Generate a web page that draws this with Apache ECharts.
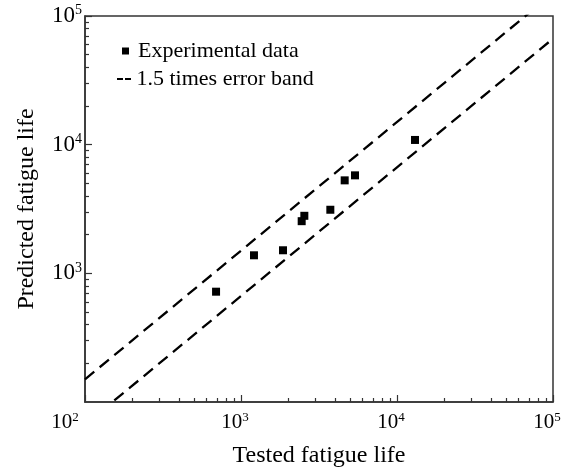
<!DOCTYPE html>
<html><head><meta charset="utf-8">
<script src="https://cdn.jsdelivr.net/npm/echarts@6/dist/echarts.min.js"></script>
<style>html,body{margin:0;padding:0;background:#fff}#c{width:567px;height:468px}</style>
</head><body><div id="c"></div>
<script>
// ---- data ----
const testedLife    = [692, 1211, 1859, 2449, 2547, 3738, 4620, 5379, 13040];
const predictedLife = [720, 1381, 1511, 2543, 2800, 3120, 5280, 5775, 10880];
const bandFactor = 1.5;
const decadeExponents = [2, 3, 4, 5];
const minorMultipliers = [2, 3, 4, 5, 6, 7, 8, 9];
const xTitle = 'Tested fatigue life';
const yTitle = 'Predicted fatigue life';
const legendNames = ['Experimental data', '1.5 times error band'];

// ---- build ----
const FONT = '"Liberation Serif", "Times New Roman", Times, serif';
const lg = Math.log10;
const minE = decadeExponents[0], maxE = decadeExponents[decadeExponents.length - 1];
const minorVals = [];
decadeExponents.slice(0, -1).forEach(e => minorMultipliers.forEach(m => minorVals.push(lg(m * Math.pow(10, e)))));
const scatterData = testedLife.map((t, i) => [lg(t), lg(predictedLife[i])]);
const lo = Math.pow(10, minE), hi = Math.pow(10, maxE);
const upperBand = [[lg(lo), lg(lo * bandFactor)], [lg(hi), lg(hi * bandFactor)]];
const lowerBand = [[lg(lo), lg(lo / bandFactor)], [lg(hi), lg(hi / bandFactor)]];

const AX = '#333';
function richFor(size, supSize) {
  return {
    b: { fontSize: size, fontFamily: FONT, color: '#000', lineHeight: size + 4 },
    s: { fontSize: supSize, fontFamily: FONT, color: '#000', verticalAlign: 'top', lineHeight: supSize, padding: [1, 0, 0, 0] },
    p: { fontSize: size, fontFamily: FONT, width: 28 }
  };
}
const gridOpt = { left: 85, right: 14, top: 16, bottom: 66, show: true, borderColor: AX, borderWidth: 1.5,
  containLabel: false, outerBoundsMode: 'none' };

const chart = echarts.init(document.getElementById('c'), null, { renderer: 'canvas' });
chart.setOption({
  animation: false,
  backgroundColor: '#fff',
  grid: gridOpt,
  xAxis: [{
    type: 'value', min: minE, max: maxE, interval: 1, position: 'bottom',
    name: xTitle, nameLocation: 'middle', nameGap: 42,
    nameTextStyle: { fontSize: 24, fontFamily: FONT, color: '#000' },
    axisLine: { show: true, lineStyle: { color: AX, width: 1.5 } },
    axisTick: { show: true, inside: true, length: 7, lineStyle: { color: AX, width: 1.2 } },
    splitLine: { show: false },
    axisLabel: {
      margin: 8, showMinLabel: true, showMaxLabel: true, padding: [0, 12, 0, 0],
      fontSize: 21, fontFamily: FONT, color: '#000',
      formatter: v => (Math.round(v) === minE ? '{b|10}{s|' + Math.round(v) + '}{p| }' : '{b|10}{s|' + Math.round(v) + '}'),
      rich: richFor(21, 13)
    }
  }, {
    type: 'value', min: minE, max: maxE, position: 'bottom', gridIndex: 0,
    axisLine: { show: false }, axisLabel: { show: false }, splitLine: { show: false },
    axisTick: { show: true, inside: true, length: 4, customValues: minorVals, lineStyle: { color: AX, width: 1.2 } }
  }],
  yAxis: [{
    type: 'value', min: minE, max: maxE, interval: 1, position: 'left',
    name: yTitle, nameLocation: 'middle', nameGap: 46, nameRotate: 90,
    nameTextStyle: { fontSize: 24, fontFamily: FONT, color: '#000' },
    axisLine: { show: true, lineStyle: { color: AX, width: 1.5 } },
    axisTick: { show: true, inside: true, length: 7, lineStyle: { color: AX, width: 1.2 } },
    splitLine: { show: false },
    axisLabel: {
      margin: 3, showMinLabel: false, showMaxLabel: true,
      fontSize: 23, fontFamily: FONT, color: '#000',
      formatter: v => '{b|10}{s|' + Math.round(v) + '}',
      rich: richFor(23, 14)
    }
  }, {
    type: 'value', min: minE, max: maxE, position: 'left', gridIndex: 0,
    axisLine: { show: false }, axisLabel: { show: false }, splitLine: { show: false },
    axisTick: { show: true, inside: true, length: 4, customValues: minorVals, lineStyle: { color: AX, width: 1.2 } }
  }],
  legend: [{
    data: [{ name: legendNames[0], icon: 'rect', itemStyle: { color: '#000', opacity: 1 } }],
    left: 122, top: 40, padding: 0, orient: 'vertical', itemWidth: 7, itemHeight: 7,
    textStyle: { fontSize: 22, fontFamily: FONT, color: '#000', padding: [0, 0, 0, 4], lineHeight: 22 },
    selectedMode: false
  }, {
    data: [{ name: legendNames[1], icon: 'path://M0,0H6V2H0Z M8,0H14V2H8Z', itemStyle: { color: '#000', opacity: 1 } }],
    left: 117, top: 68, padding: 0, orient: 'vertical', itemWidth: 15, itemHeight: 2,
    textStyle: { fontSize: 22, fontFamily: FONT, color: '#000', padding: [0, 0, 0, 0], lineHeight: 22 },
    selectedMode: false
  }],
  series: [{
    name: legendNames[0], type: 'scatter', data: scatterData,
    symbol: 'rect', symbolSize: 8, itemStyle: { color: '#000', opacity: 1 }
  }, {
    name: legendNames[1], type: 'line', data: upperBand, symbol: 'none', clip: true,
    lineStyle: { color: '#000', width: 2.3, type: [12, 7] }, itemStyle: { color: '#000' }
  }, {
    name: legendNames[1], type: 'line', data: lowerBand, symbol: 'none', clip: true,
    lineStyle: { color: '#000', width: 2.3, type: [12, 7] }, itemStyle: { color: '#000' }
  }]
});
</script></body></html>
